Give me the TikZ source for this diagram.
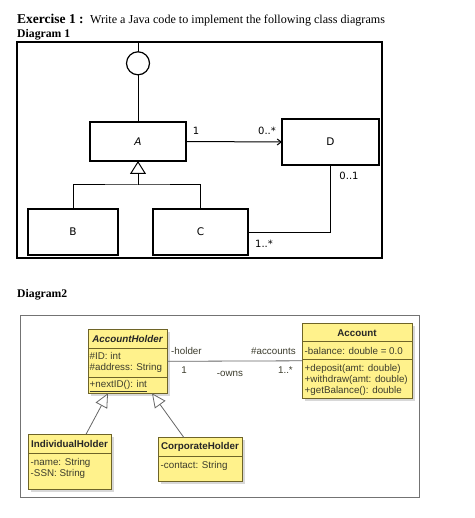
\documentclass[tikz,border=0pt]{standalone}
\usepackage{fontspec}
\setmainfont{Liberation Serif}
\newfontfamily\umlfont{Liberation Sans}
\newfontfamily\boxfont{DejaVu Sans}
\usetikzlibrary{arrows.meta,shadows}

\tikzset{
  box/.style={draw,line width=1.2pt,inner sep=0pt,outer sep=0pt,font=\boxfont\fontsize{10.5}{12}\selectfont},
  mult/.style={inner sep=0pt,font=\boxfont\fontsize{10}{12}\selectfont},
  umlclass/.style={draw=umlline,fill=umlfill,line width=0.8pt,inner sep=0pt,outer sep=0pt,anchor=north west,
    drop shadow={shadow xshift=2.5pt,shadow yshift=-2.5pt,fill=black!30,opacity=0.5}},
  umlname/.style={inner sep=0pt,text=black!85,font=\umlfont\bfseries\fontsize{9.8}{11.5}\selectfont},
  umltext/.style={inner sep=0pt,anchor=north west,align=left,text=umltext,font=\umlfont\fontsize{9.8}{11.3}\selectfont},
  umllabel/.style={inner sep=0pt,text=umltext,font=\umlfont\fontsize{9.8}{11.5}\selectfont},
  umlgen/.style={draw=black!60,line width=0.8pt,-{Triangle[open,length=14pt,width=13pt,fill=white]}},
}

\begin{document}
\begin{tikzpicture}[x=1pt,y=-1pt]

    \definecolor{umlfill}{RGB}{255,242,140}
    \definecolor{umlline}{RGB}{110,100,40}
    \definecolor{umltext}{RGB}{60,60,45}

    \useasboundingbox (0,0) rectangle (474,518);

    % headings
    \node[anchor=base west,inner sep=0pt,font=\bfseries\fontsize{13.5}{16}\selectfont] (exercise) at (17,23.3) {Exercise 1 :};
    \node[anchor=base west,inner sep=0pt,font=\fontsize{12.1}{14}\selectfont] (task) at ([xshift=6pt]exercise.base east)
        {Write a Java code to implement the following class diagrams};
    \node[anchor=base west,inner sep=0pt,font=\bfseries\fontsize{11.7}{14}\selectfont] (diagramone) at (17,37.3) {Diagram 1};

    % Diagram 1
    \node[draw,line width=1.5pt,minimum width=365pt,minimum height=216pt,anchor=north west,inner sep=0pt,outer sep=0pt] (frameone) at (17,42) {};

    \node[box] (iface) [circle,minimum size=23pt] at (138,63.3) {};
    \node[box,minimum width=96pt,minimum height=39pt] (A) at (138,141.5) {\textit{A}};
    \node[box,minimum width=97pt,minimum height=46pt] (D) at (330.5,142) {D};
    \node[box,minimum width=90pt,minimum height=46pt] (B) at (73,232) {B};
    \node[box,minimum width=95pt,minimum height=46pt] (C) at (200.5,232) {C};

    \draw[line width=1pt] (iface.north) -- (iface.north |- frameone.north);
    \draw[line width=1pt] (iface.south) -- (A.north);

    \coordinate (join) at (138,185);
    \draw[line width=1pt,-{Triangle[open,length=13pt,width=16pt]}] (join) -- (A.south);
    \draw[line width=1pt] (B.north) |- (join) -| (C.north);

    \draw[line width=1pt,-{Straight Barb[length=4pt,width=6pt]}] (A.east) -- (D.west);
    \draw[line width=1pt] (C.east) -| (D.south);

    \node[mult] (multA) at (196,131) {1};
    \node[mult] (multD) at (267,131) {0..*};
    \node[mult] (multDC) at (349,176) {0..1};
    \node[mult] (multC) at (264,244) {1..*};

    % Diagram 2
    \node[anchor=base west,inner sep=0pt,font=\bfseries\fontsize{11.7}{14}\selectfont] (diagramtwo) at (17,297.3) {Diagram2};
    \node[draw=black!55,line width=0.9pt,minimum width=399pt,minimum height=182pt,anchor=north west,inner sep=0pt,outer sep=0pt] (frametwo) at (20,315) {};

    % AccountHolder
    \node[umlclass,minimum width=79pt,minimum height=64pt] (holder) at (88,329.3) {};
    \draw[umlline,line width=0.8pt] ([yshift=-19pt]holder.north west) -- ([yshift=-19pt]holder.north east);
    \draw[umlline,line width=0.8pt] ([yshift=-48pt]holder.north west) -- ([yshift=-48pt]holder.north east);
    \node[umlname] (holdername) at ([yshift=-9.5pt]holder.north) {\itshape AccountHolder};
    \node[umltext] (holderattr) at ([xshift=1.5pt,yshift=-23pt]holder.north west) {\#ID: int\\\#address: String};
    \node[umltext] (holderop) at ([xshift=1.5pt,yshift=-51pt]holder.north west) {\underline{+nextID(): int}};

    % Account
    \node[umlclass,minimum width=110pt,minimum height=75pt] (account) at (302,323.3) {};
    \draw[umlline,line width=0.8pt] ([yshift=-18.4pt]account.north west) -- ([yshift=-18.4pt]account.north east);
    \draw[umlline,line width=0.8pt] ([yshift=-36pt]account.north west) -- ([yshift=-36pt]account.north east);
    \node[umlname] (accountname) at ([yshift=-9.4pt]account.north) {Account};
    \node[umltext] (accountattr) at ([xshift=2.5pt,yshift=-23.5pt]account.north west) {-balance: double = 0.0};
    \node[umltext] (accountop) at ([xshift=2.5pt,yshift=-40.5pt]account.north west)
        {+deposit(amt: double)\\+withdraw(amt: double)\\+getBalance(): double};

    % IndividualHolder
    \node[umlclass,minimum width=83pt,minimum height=55pt] (individual) at (28,434.3) {};
    \draw[umlline,line width=0.8pt] ([yshift=-19pt]individual.north west) -- ([yshift=-19pt]individual.north east);
    \node[umlname] (individualname) at ([yshift=-10pt]individual.north) {IndividualHolder};
    \node[umltext] (individualattr) at ([xshift=2.5pt,yshift=-24pt]individual.north west) {-name: String\\-SSN: String};

    % CorporateHolder
    \node[umlclass,minimum width=84pt,minimum height=43.3pt] (corporate) at (158,437.7) {};
    \draw[umlline,line width=0.8pt] ([yshift=-19pt]corporate.north west) -- ([yshift=-19pt]corporate.north east);
    \node[umlname] (corporatename) at ([yshift=-9.6pt]corporate.north) {CorporateHolder};
    \node[umltext] (corporateattr) at ([xshift=2.5pt,yshift=-23pt]corporate.north west) {-contact: String};

    % association and generalizations
    \draw[black!60,line width=0.8pt] (holder.east) -- (account.west);
    \node[umllabel,anchor=west] (rolea) at (171,351) {-holder};
    \node[umllabel,anchor=east] (roleb) at (296,351) {\#accounts};
    \node[umllabel] (multa) at (184,370) {1};
    \node[umllabel] (assocname) at (230,374) {-owns};
    \node[umllabel,anchor=east] (multb) at (293,370) {1..*};

    \draw[umlgen] ([xshift=16.5pt]individual.north) -- ([xshift=-19.5pt]holder.south);
    \draw[umlgen] ([xshift=-16pt]corporate.north) -- ([xshift=24.5pt]holder.south);

\end{tikzpicture}
\end{document}
